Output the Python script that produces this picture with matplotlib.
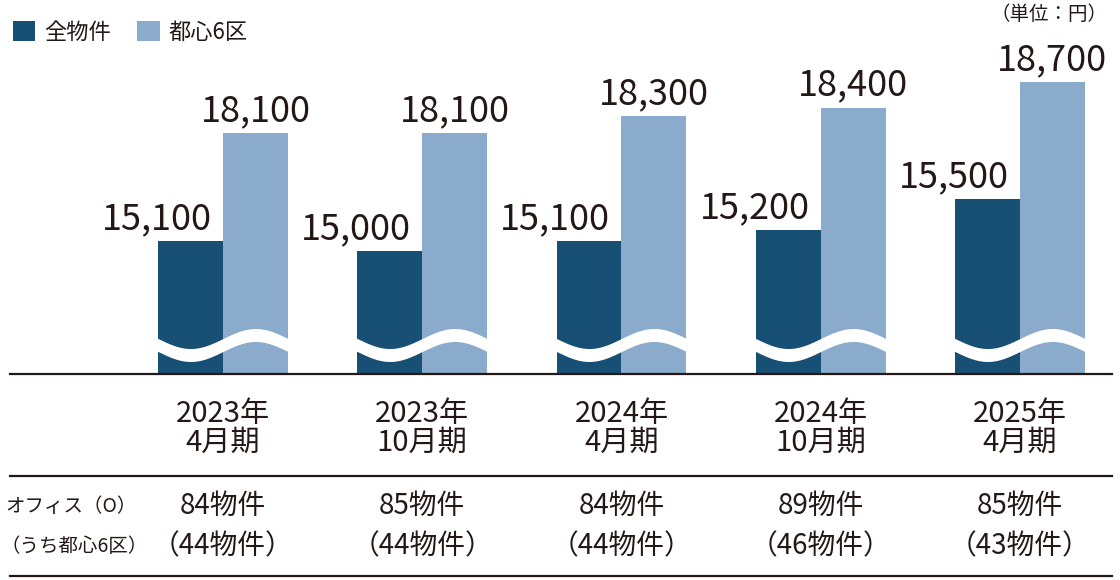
import numpy as np
import matplotlib
matplotlib.use("Agg")
import matplotlib.pyplot as plt
from matplotlib.transforms import blended_transform_factory
from matplotlib.lines import Line2D

plt.rcParams['font.family'] = ['Noto Sans CJK JP', 'DejaVu Sans']

# data
periods = ["2023年\n4月期", "2023年\n10月期", "2024年\n4月期", "2024年\n10月期", "2025年\n4月期"]
all_props = [15100, 15000, 15100, 15200, 15500]
central6 = [18100, 18100, 18300, 18400, 18700]
office_counts = ["84物件", "85物件", "84物件", "89物件", "85物件"]
central_counts = ["（44物件）", "（44物件）", "（44物件）", "（46物件）", "（43物件）"]
series_names = ["全物件", "都心6区"]
unit_label = "（単位：円）"
row_labels = ["オフィス（O）", "（うち都心6区）"]

DARK = "#174f75"
LIGHT = "#8aabcc"
INK = "#231815"

# broken value axis (piecewise scale, like the printed chart)
knots_v = [0, 15000, 15500, 18100, 18700, 40000]
knots_p = [0, 123, 175, 241, 292, 2102]


def fwd(v):
    return np.interp(v, knots_v, knots_p)


def inv(p):
    return np.interp(p, knots_p, knots_v)


W, H = 1120, 580
BASE = 374      # baseline, px from top
AX_H = 334      # axes height, px
fig = plt.figure(figsize=(W / 100, H / 100), dpi=100)
ax = fig.add_axes([10 / W, (H - BASE) / H, 1102 / W, AX_H / H])
ax.set_yscale('function', functions=(fwd, inv))

x = np.arange(len(periods))
bw = 0.326
b1 = ax.bar(x - bw / 2, all_props, bw, color=DARK, label=series_names[0], zorder=2)
b2 = ax.bar(x + bw / 2, central6, bw, color=LIGHT, label=series_names[1], zorder=2)

ax.set_xlim(-1.069, 4.462)
ax.set_ylim(0, inv(AX_H))

for s in ['top', 'right', 'left']:
    ax.spines[s].set_visible(False)
ax.spines['bottom'].set_color(INK)
ax.spines['bottom'].set_linewidth(1.6)
ax.set_xticks([])
ax.set_yticks([])
ax.minorticks_off()

# wavy white break across each bar pair
tr = blended_transform_factory(ax.transData, ax.transAxes)
for i in x:
    xs = np.linspace(i - bw - 0.05, i + bw + 0.05, 200)
    mid = 29 - 10 * np.sin(2 * np.pi * (xs - (i - bw)) / (2 * bw))
    ax.fill_between(xs, (mid - 6.5) / AX_H, (mid + 6.5) / AX_H, color='white',
                    transform=tr, zorder=3, lw=0)

# value labels
for i in x:
    ax.annotate(f"{all_props[i]:,}", (i, all_props[i]), xytext=(-8, 8.5),
                textcoords='offset points', ha='right', va='baseline',
                fontsize=26, color=INK)
    ax.annotate(f"{central6[i]:,}", (i + bw / 2, central6[i]), xytext=(0, 8.5),
                textcoords='offset points', ha='center', va='baseline',
                fontsize=26, color=INK)


def yfrac(p):
    return (BASE - p) / AX_H


# period labels
for i in x:
    l1, l2 = periods[i].split("\n")
    ax.text(i, yfrac(414), l1, transform=tr, ha='center', va='center', fontsize=21, color=INK)
    ax.text(i, yfrac(443), l2, transform=tr, ha='center', va='center', fontsize=21, color=INK)

# table
for yl in [476, 576]:
    fig.add_artist(Line2D([10 / W, 1112 / W], [(H - yl) / H] * 2, color=INK, lw=1.6))
fig.text(5 / W, (H - 506) / H, row_labels[0], ha='left', va='center', fontsize=14, color=INK)
fig.text(1 / W, (H - 546) / H, row_labels[1], ha='left', va='center', fontsize=14, color=INK)
for i in x:
    ax.text(i, yfrac(506), office_counts[i], transform=tr, ha='center', va='center', fontsize=20, color=INK)
    ax.text(i, yfrac(546), central_counts[i], transform=tr, ha='center', va='center', fontsize=20, color=INK)

# legend and unit
leg = ax.legend(handles=[b1, b2], loc='upper left', bbox_to_anchor=(-5 / W, 1 - 3 / H),
                bbox_transform=fig.transFigure, frameon=False, ncol=2, fontsize=16,
                handlelength=1.0, handleheight=1.0, handletextpad=0.4, columnspacing=1.2,
                borderpad=0.3)
for t in leg.get_texts():
    t.set_color(INK)
fig.text(1108 / W, 1 - 15 / H, unit_label, ha='right', va='center', fontsize=14, color=INK)

fig.savefig("out.png", dpi=100)
